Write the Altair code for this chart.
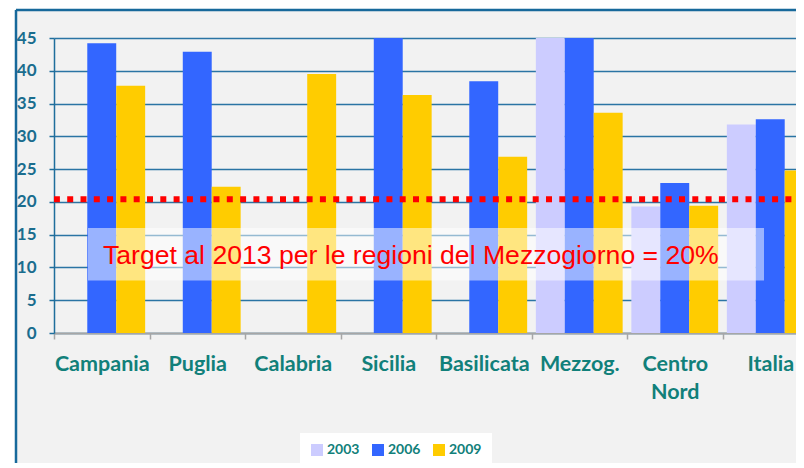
import altair as alt
import pandas as pd

categories = ["Campania", "Puglia", "Calabria", "Sicilia", "Basilicata", "Mezzog.", "Centro Nord", "Italia"]
years = ["2003", "2006", "2009"]
v2003 = [None, None, None, None, None, 45, 19.3, 31.8]
v2006 = [44.2, 42.9, None, 45, 38.4, 45, 22.9, 32.6]
v2009 = [37.7, 22.3, 39.5, 36.3, 26.9, 33.6, 19.4, 24.8]
colors = ["#ccccff", "#3366ff", "#ffcc00"]
y_ticks = [0, 5, 10, 15, 20, 25, 30, 35, 40, 45]
target_line = 20.4
target_text = "Target al 2013 per le regioni del Mezzogiorno = 20%"

rows = []
for yr, vals in zip(years, [v2003, v2006, v2009]):
    for c, v in zip(categories, vals):
        if v is not None:
            rows.append({"cat": c, "year": yr, "value": v})
df = pd.DataFrame(rows)
one = pd.DataFrame({"a": [0]})

W, H = 764, 295
yscale = alt.Scale(domain=[0, 45], nice=False)
yaxis = alt.Axis(values=y_ticks, labelOverlap=False, labelFont="Lato", labelFontWeight="bold",
                 labelFontSize=17, labelColor="#1a6d8e", labelPadding=13, tickSize=5,
                 tickColor="#1f6e9c", tickWidth=1.5, domainColor="#1f6e9c", domainWidth=1.5,
                 gridColor="#2a74a4", gridWidth=1.5)

bars = alt.Chart(df).mark_bar().encode(
    x=alt.X("cat:N", sort=categories, title=None,
            scale=alt.Scale(paddingInner=0, paddingOuter=0),
            axis=alt.Axis(labelAngle=0, labelFont="Lato", labelFontWeight="bold", labelFontSize=21.5,
                          labelColor="#11807a", labelBaseline="alphabetic", labelPadding=31,
                          labelLineHeight=28, labelOverlap=False, labelLimit=300,
                          labelExpr="datum.value == 'Centro Nord' ? ['Centro', 'Nord'] : datum.label",
                          domainColor="#a6a6a6", domainWidth=2, tickColor="#a6a6a6", tickWidth=1.5,
                          tickSize=6, tickBand="extent", grid=False)),
    xOffset=alt.XOffset("year:N", sort=years, scale=alt.Scale(paddingInner=0, paddingOuter=0.15)),
    y=alt.Y("value:Q", scale=yscale, title=None, axis=yaxis),
    color=alt.Color("year:N", scale=alt.Scale(domain=years, range=colors),
                    legend=alt.Legend(orient="none", legendX=246, legendY=395, direction="horizontal",
                                      title=None, symbolType="square", symbolSize=144,
                                      symbolStrokeWidth=0, labelFont="Lato", labelFontWeight="bold",
                                      labelFontSize=14, labelColor="#11807a", fillColor="white",
                                      padding=10, columnPadding=11, labelOffset=3)),
)

dots = alt.Chart(one).mark_rule(color="#ff0000", strokeWidth=6, strokeDash=[6, 7.3]).encode(
    y=alt.Y(datum=target_line, scale=yscale, title=None, axis=yaxis)
)

box = alt.Chart(one).mark_rect(color="white", opacity=0.5).encode(
    x=alt.value(34), x2=alt.value(710),
    y=alt.Y(datum=16, scale=yscale, title=None, axis=yaxis), y2=alt.datum(8)
)

txt = alt.Chart(one).mark_text(align="left", baseline="alphabetic", font="Liberation Sans",
                               fontSize=26.6, color="#ff0000").encode(
    x=alt.value(49), y=alt.Y(datum=10.5, scale=yscale, title=None, axis=yaxis),
    text=alt.value(target_text)
)

white_left = alt.Chart(one).mark_rect(color="white").encode(
    x=alt.value(-50), x2=alt.value(-39), y=alt.value(-40), y2=alt.value(500)
)
white_top = alt.Chart(one).mark_rect(color="white").encode(
    x=alt.value(-50), x2=alt.value(800), y=alt.value(-40), y2=alt.value(-29)
)
border_left = alt.Chart(one).mark_rule(color="#17699b", strokeWidth=2.5).encode(
    x=alt.value(-38), y=alt.value(-28), y2=alt.value(500)
)
border_top = alt.Chart(one).mark_rule(color="#17699b", strokeWidth=2.5).encode(
    x=alt.value(-38), x2=alt.value(800), y=alt.value(-28)
)

chart = alt.layer(bars, dots, box, txt, white_left, white_top, border_left, border_top).properties(
    width=W, height=H, background="#f2f2f2",
    padding={"left": 46, "top": 30, "right": -22, "bottom": 130},
    autosize=alt.AutoSizeParams(type="none"),
).configure_view(strokeWidth=0)

chart.save("out.html", embed_options={"renderer": "svg", "actions": False})
